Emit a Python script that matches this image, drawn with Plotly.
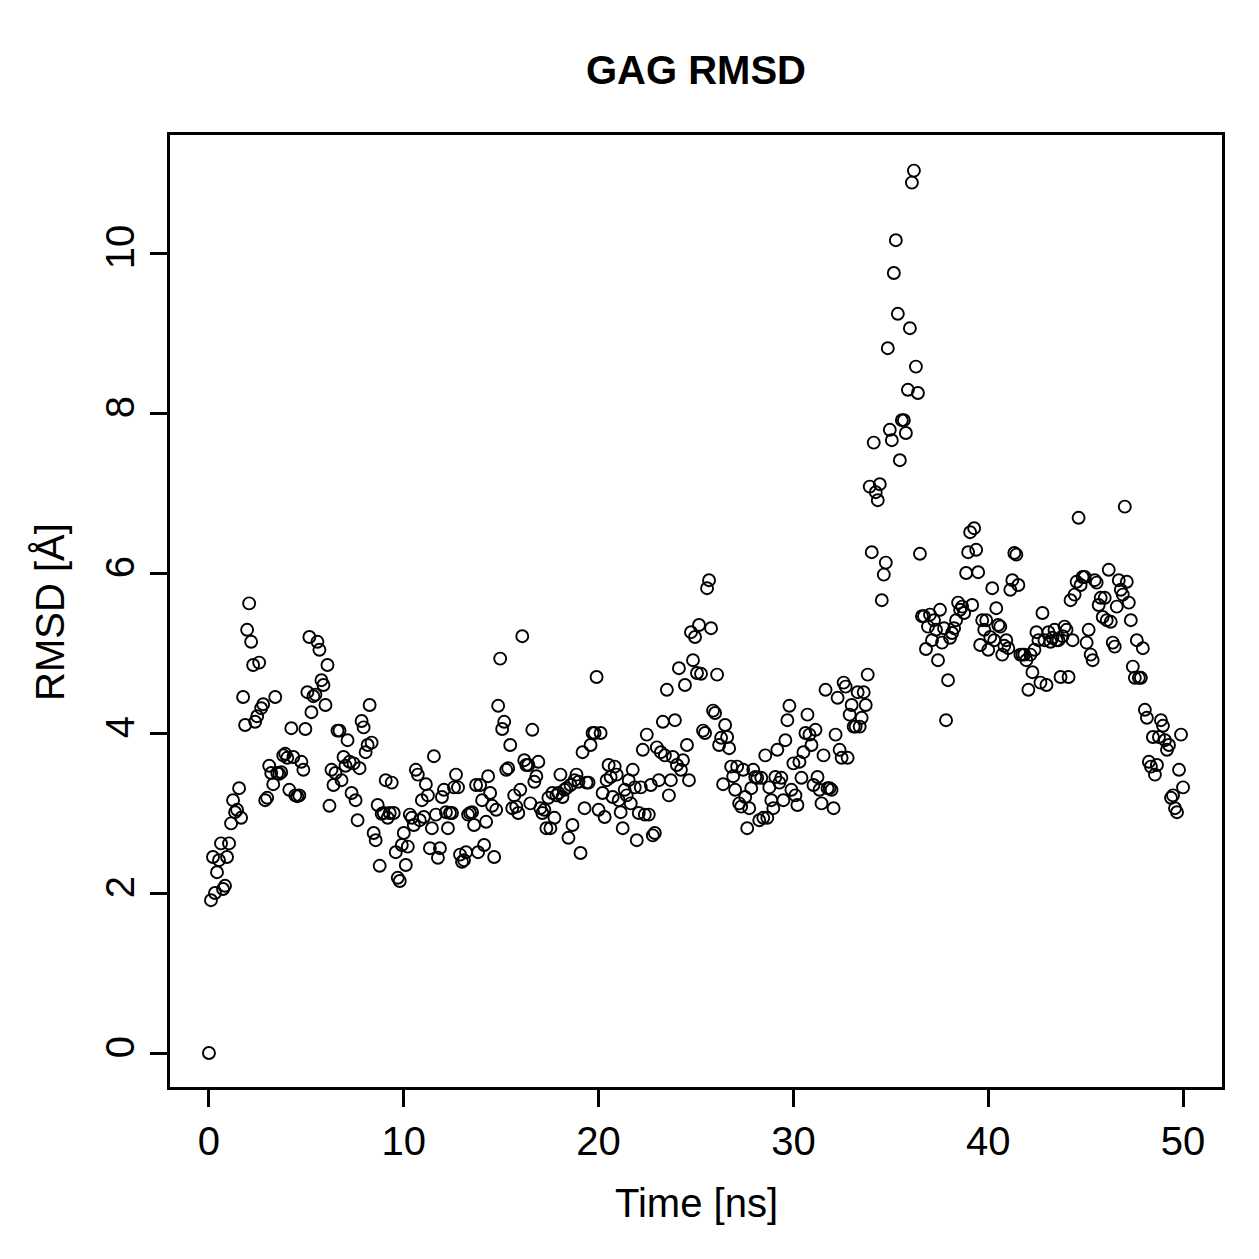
import numpy as np
import plotly.graph_objects as go

title_text = "GAG RMSD"
x_label = "Time [ns]"
y_label = "RMSD [Å]"
x_ticks = [0, 10, 20, 30, 40, 50]
y_ticks = [0, 2, 4, 6, 8, 10]

# RMSD values (Å), sampled evenly in time from 0 to 50 ns
rmsd = [
    0.0, 1.91, 2.45, 2.0, 2.26, 2.41, 2.62, 2.05, 2.09, 2.45,
    2.62, 2.87, 3.16, 3.01, 3.04, 3.31, 2.94, 4.45, 4.1, 5.29,
    5.62, 5.14, 4.85, 4.14, 4.21, 4.88, 4.31, 4.36, 3.16, 3.19,
    3.59, 3.5, 3.36, 4.45, 3.5, 3.49, 3.51, 3.72, 3.74, 3.69,
    3.29, 4.06, 3.7, 3.22, 3.21, 3.22, 3.64, 3.54, 4.05, 4.51,
    5.2, 4.26, 4.46, 4.48, 5.14, 5.04, 4.66, 4.6, 4.35, 4.85,
    3.09, 3.54, 3.35, 3.5, 4.03, 4.03, 3.41, 3.7, 3.59, 3.91,
    3.64, 3.25, 3.62, 3.16, 2.91, 3.56, 4.15, 4.07, 3.76, 3.85,
    4.35, 3.88, 2.75, 2.66, 3.1, 2.34, 2.99, 3.0, 3.41, 2.94,
    3.0, 3.38, 3.0, 2.51, 2.19, 2.15, 2.6, 2.75, 2.35, 2.58,
    2.98, 2.94, 2.85, 3.54, 3.48, 2.91, 3.16, 2.95, 3.36, 3.22,
    2.56, 2.81, 3.71, 2.98, 2.44, 2.56, 3.2, 3.29, 3.01, 2.81,
    3.0, 3.0, 3.32, 3.48, 3.32, 2.48, 2.39, 2.41, 2.51, 2.98,
    3.0, 3.01, 2.85, 3.35, 2.51, 3.35, 3.16, 2.6, 2.89, 3.46,
    3.25, 3.09, 2.45, 3.04, 4.34, 4.93, 4.05, 4.14, 3.54, 3.56,
    3.85, 3.06, 3.22, 3.08, 3.0, 3.29, 5.21, 3.66, 3.6, 3.6,
    3.12, 4.04, 3.39, 3.46, 3.64, 3.06, 3.0, 3.04, 2.81, 3.19,
    2.81, 3.25, 2.94, 3.22, 3.25, 3.48, 3.2, 3.29, 3.31, 2.69,
    3.35, 2.85, 3.41, 3.48, 3.39, 2.5, 3.76, 3.06, 3.38, 3.38,
    3.85, 4.0, 4.0, 4.7, 3.04, 4.0, 3.25, 2.95, 3.41, 3.6,
    3.45, 3.2, 3.58, 3.48, 3.16, 3.01, 2.81, 3.29, 3.22, 3.41,
    3.12, 3.54, 3.32, 2.66, 3.0, 3.32, 3.79, 2.98, 3.98, 2.98,
    3.35, 2.72, 2.75, 3.82, 3.41, 3.76, 4.14, 3.72, 4.54, 3.22,
    3.41, 3.7, 4.16, 3.6, 4.81, 3.54, 3.66, 4.6, 3.85, 3.41,
    5.26, 4.91, 5.2, 4.75, 5.35, 4.74, 4.03, 4.0, 5.81, 5.91,
    5.31, 4.28, 4.25, 4.73, 3.85, 3.94, 3.36, 4.1, 3.95, 3.81,
    3.58, 3.46, 3.29, 3.58, 3.12, 3.08, 3.54, 3.2, 2.81, 3.06,
    3.31, 3.54, 3.45, 3.44, 2.91, 3.44, 2.94, 3.72, 2.94, 3.32,
    3.16, 3.06, 3.45, 3.79, 3.38, 3.44, 3.16, 3.91, 4.16, 4.34,
    3.29, 3.62, 3.22, 3.1, 3.64, 3.44, 3.76, 4.0, 4.23, 3.98,
    3.85, 3.35, 4.04, 3.45, 3.29, 3.12, 3.72, 4.54, 3.31, 3.31,
    3.29, 3.06, 3.98, 4.44, 3.79, 3.69, 4.63, 4.58, 3.69, 4.23,
    4.35, 4.08, 4.08, 4.51, 4.08, 4.19, 4.51, 4.35, 4.73, 7.08,
    6.26, 7.63, 7.01, 6.91, 7.11, 5.66, 5.98, 6.13, 8.81, 7.79,
    7.66, 9.75, 10.16, 9.24, 7.41, 7.91, 7.91, 7.75, 8.29, 9.06,
    10.88, 11.03, 8.58, 8.25, 6.24, 5.46, 5.46, 5.05, 5.33, 5.48,
    5.16, 5.41, 5.29, 4.91, 5.54, 5.13, 5.31, 4.16, 4.66, 5.19,
    5.25, 5.31, 5.41, 5.63, 5.54, 5.58, 5.5, 6.0, 6.26, 6.51,
    5.6, 6.56, 6.29, 6.01, 5.1, 5.41, 5.29, 5.41, 5.04, 5.2,
    5.81, 5.16, 5.56, 5.35, 5.33, 4.98, 5.09, 5.16, 5.06, 5.79,
    5.91, 6.25, 6.23, 5.85, 4.98, 4.98, 4.98, 4.91, 4.54, 4.98,
    4.76, 5.04, 5.26, 5.16, 4.63, 5.5, 5.16, 4.6, 5.26, 5.14,
    5.19, 5.29, 5.16, 5.16, 4.7, 5.21, 5.33, 5.29, 4.7, 5.66,
    5.16, 5.73, 5.89, 6.69, 5.85, 5.95, 5.95, 5.13, 5.29, 4.98,
    4.91, 5.91, 5.88, 5.6, 5.69, 5.45, 5.69, 5.41, 6.04, 5.39,
    5.13, 5.08, 5.58, 5.91, 5.79, 5.73, 6.83, 5.89, 5.63, 5.41,
    4.83, 4.69, 5.16, 4.69, 4.69, 5.06, 4.29, 4.19, 3.64, 3.58,
    3.95, 3.48, 3.6, 3.95, 4.16, 4.09, 3.91, 3.79, 3.85, 3.19,
    3.22, 3.06, 3.01, 3.54, 3.98, 3.32,
]
time_ns = np.linspace(0, 50, len(rmsd))

FONT = "Liberation Sans, Arial, Helvetica, sans-serif"

fig = go.Figure()
fig.add_trace(go.Scatter(
    x=time_ns, y=rmsd, mode="markers",
    marker=dict(symbol="circle-open", size=12, color="black",
                line=dict(width=1.9, color="black")),
    showlegend=False,
))

axis_common = dict(
    showline=True, mirror=True, linecolor="black", linewidth=2.5,
    showgrid=False, zeroline=False, ticks="outside", ticklen=17,
    tickwidth=2.5, tickcolor="black",
    tickfont=dict(family=FONT, size=40, color="black"),
)

fig.update_layout(
    width=1259, height=1259,
    margin=dict(l=170, r=37, t=135, b=172),
    paper_bgcolor="white", plot_bgcolor="white",
    title=dict(text="<b>" + title_text + "</b>", x=0.5, xref="paper",
               y=1 - 70 / 1259, yref="container", yanchor="middle",
               font=dict(family=FONT, size=40, color="black")),
    xaxis=dict(range=[-2, 52], tickvals=x_ticks,
               ticktext=[str(v) for v in x_ticks], **axis_common),
    yaxis=dict(range=[-0.425, 11.475], tickvals=y_ticks,
               ticktext=[str(v) for v in y_ticks], tickangle=-90,
               **axis_common),
    annotations=[
        dict(text=x_label, xref="paper", yref="paper", x=0.5,
             y=(1087 - 1203) / 952, xanchor="center", yanchor="middle",
             showarrow=False, font=dict(family=FONT, size=40, color="black")),
        dict(text=y_label, xref="paper", yref="paper",
             x=(50 - 170) / 1052, y=(1087 - 612) / 952, xanchor="center",
             yanchor="middle", textangle=-90, showarrow=False,
             font=dict(family=FONT, size=40, color="black")),
    ],
)

fig.write_html("out.html")
